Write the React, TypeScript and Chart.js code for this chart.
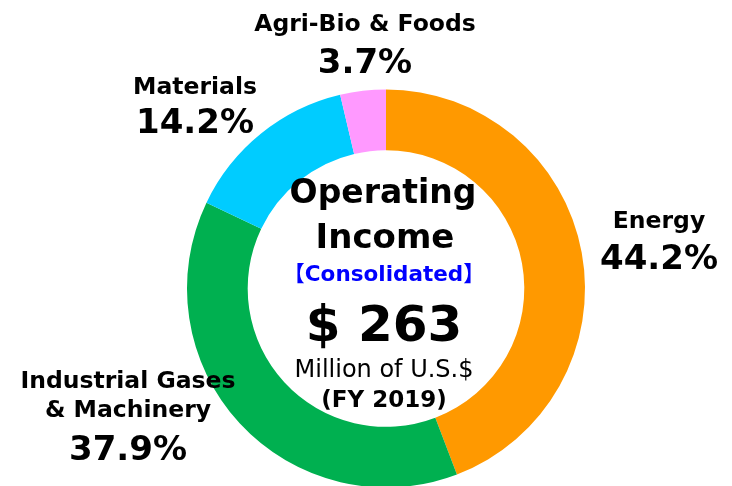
import React, { useEffect, useRef } from "react";
import { Chart, registerables } from "chart.js";

Chart.register(...registerables);

const categories = ["Energy", "Industrial Gases & Machinery", "Materials", "Agri-Bio & Foods"];
const shares = [44.2, 37.9, 14.2, 3.7];
const colors = ["#FF9900", "#00B050", "#00CCFF", "#FF99FF"];
const labelLines = [["Energy"], ["Industrial Gases", "& Machinery"], ["Materials"], ["Agri-Bio & Foods"]];
const centerTitle = ["Operating", "Income"];
const centerSub = "【Consolidated】";
const centerValue = "$ 263";
const centerUnit = "Million of U.S.$";
const centerPeriod = "(FY 2019)";

// label layout: [center x, baselines of name lines..., baseline of percentage]
const labelLayout = [
  { x: 659, names: [228], pct: 269 },
  { x: 128, names: [388, 417], pct: 460 },
  { x: 195, names: [94], pct: 133 },
  { x: 365, names: [31], pct: 73 },
];

const FONT = "'DejaVu Sans', 'Noto Sans CJK JP', sans-serif";

const textPlugin = {
  id: "textPlugin",
  afterDraw(chart: any) {
    const ctx = chart.ctx as CanvasRenderingContext2D;
    const meta = chart.getDatasetMeta(0);
    const arc = meta.data[0];
    const cx = arc.x;
    ctx.save();
    ctx.textAlign = "center";
    ctx.textBaseline = "alphabetic";
    ctx.fillStyle = "#000";
    // center text
    ctx.font = `bold 33px ${FONT}`;
    ctx.fillText(centerTitle[0], cx - 3, 203);
    ctx.font = `bold 34px ${FONT}`;
    ctx.fillText(centerTitle[1], cx - 1, 248);
    ctx.fillStyle = "#0000FF";
    ctx.font = `bold 21.5px ${FONT}`;
    ctx.fillText(centerSub, cx - 2, 281);
    ctx.fillStyle = "#000";
    ctx.font = `bold 50px ${FONT}`;
    ctx.fillText(centerValue, cx - 2, 341);
    ctx.font = `24px ${FONT}`;
    ctx.fillText(centerUnit, cx - 2, 377);
    ctx.font = `bold 23px ${FONT}`;
    ctx.fillText(centerPeriod, cx - 2, 407);
    // outside labels
    labelLines.forEach((lines, i) => {
      const lay = labelLayout[i];
      ctx.font = `bold 23.5px ${FONT}`;
      lines.forEach((ln, j) => ctx.fillText(ln, lay.x, lay.names[j]));
      ctx.font = `bold 34px ${FONT}`;
      ctx.fillText(shares[i].toFixed(1) + "%", lay.x, lay.pct);
    });
    ctx.restore();
  },
};

export default function App() {
  const ref = useRef<HTMLCanvasElement | null>(null);
  useEffect(() => {
    if (!ref.current) return;
    const chart = new Chart(ref.current, {
      type: "doughnut",
      data: {
        labels: categories,
        datasets: [
          {
            data: shares,
            backgroundColor: colors,
            borderWidth: 0,
            radius: 199,
            cutout: "69.5%",
          } as any,
        ],
      },
      options: {
        animation: false,
        responsive: true,
        maintainAspectRatio: false,
        layout: { padding: { left: 40, right: 0, top: 91, bottom: 0 } },
        plugins: { legend: { display: false }, tooltip: { enabled: false } },
      },
      plugins: [textPlugin],
    });
    return () => chart.destroy();
  }, []);
  return (
    <div style={{ position: "absolute", left: 0, top: 0, width: 732, height: 486, background: "#fff" }}>
      <canvas ref={ref} />
    </div>
  );
}
